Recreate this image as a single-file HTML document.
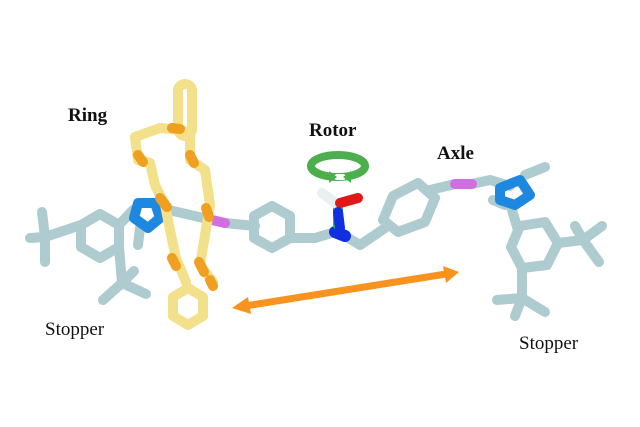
<!DOCTYPE html>
<html><head><meta charset="utf-8"><style>
html,body{margin:0;padding:0;background:#fff;width:640px;height:427px;overflow:hidden}
svg{display:block}
text{font-family:"Liberation Serif",serif;fill:#111}
</style></head><body>
<svg width="640" height="427" viewBox="0 0 640 427" xmlns="http://www.w3.org/2000/svg">
<g fill="none" stroke-linecap="round" stroke-linejoin="round">
<g stroke="#aecbcf" stroke-width="10">
<polygon points="100,214 119,225 119,247 100,258 81,247 81,225"/>
<line x1="81" y1="225" x2="45" y2="237"/>
<line x1="45" y1="237" x2="42" y2="212"/>
<line x1="45" y1="237" x2="30" y2="238"/>
<line x1="45" y1="237" x2="45" y2="262"/>
<line x1="119" y1="247" x2="122" y2="283"/>
<line x1="122" y1="283" x2="103" y2="300"/>
<line x1="122" y1="283" x2="146" y2="294"/>
<line x1="122" y1="283" x2="134" y2="271"/>
<line x1="119" y1="225" x2="133" y2="210"/>
<line x1="140" y1="228" x2="138" y2="245"/>
<line x1="160" y1="208" x2="212" y2="220"/>
<line x1="225" y1="223" x2="255" y2="226"/>
<polygon points="272,206 290,216 290,238 272,248 254,238 254,216"/>
<line x1="290" y1="238" x2="315" y2="238"/>
<line x1="315" y1="238" x2="335" y2="232"/>
<line x1="345" y1="236" x2="360" y2="245"/>
<line x1="360" y1="245" x2="385" y2="228"/>
<polygon points="393,196 418,183 435,198 425,222 398,232 383,220"/>
<line x1="430" y1="190" x2="455" y2="184"/>
<line x1="472" y1="184" x2="490" y2="180"/>
<line x1="490" y1="180" x2="510" y2="186"/>
<line x1="525" y1="175" x2="545" y2="167"/>
<line x1="493" y1="200" x2="505" y2="205"/>
<line x1="512" y1="210" x2="518" y2="230"/>
<polygon points="520,226 545,222 558,243 547,265 522,268 511,247"/>
<line x1="558" y1="243" x2="583" y2="240"/>
<line x1="583" y1="240" x2="602" y2="226"/>
<line x1="583" y1="240" x2="599" y2="262"/>
<line x1="583" y1="240" x2="575" y2="226"/>
<line x1="522" y1="268" x2="522" y2="298"/>
<line x1="522" y1="298" x2="497" y2="300"/>
<line x1="522" y1="298" x2="545" y2="312"/>
<line x1="522" y1="298" x2="515" y2="316"/>
</g>
<polygon points="138,203 155,203 160,218 148,228 134,218" stroke="#1e88e0" stroke-width="10"/>
<polygon points="500,188 520,180 530,195 515,205 500,200" stroke="#1e88e0" stroke-width="10"/>
<line x1="212" y1="220" x2="225" y2="223" stroke="#d070e0" stroke-width="10"/>
<line x1="455" y1="184" x2="472" y2="184" stroke="#d070e0" stroke-width="10"/>
<line x1="335" y1="232" x2="345" y2="236" stroke="#1030e0" stroke-width="12"/>
<line x1="338" y1="225" x2="338" y2="208" stroke="#20c050" stroke-width="10"/>
<line x1="338" y1="205" x2="322" y2="193" stroke="#e8f0f0" stroke-width="10"/>
<line x1="340" y1="203" x2="358" y2="198" stroke="#e01818" stroke-width="10"/>
<line x1="338" y1="212" x2="340" y2="228" stroke="#1030e0" stroke-width="10"/>
<g stroke="#f2e08a" stroke-width="10">
<rect x="178" y="84" width="14" height="52" rx="7"/>
<polyline points="182,130 160,128 135,137 138,160 150,163 155,185 165,205 170,230 176,258 186,282"/>
<polyline points="190,130 190,160 205,170 210,205 205,235 200,265 213,282"/>
<polygon points="188,288 203,297 203,316 188,325 173,316 173,297"/>
</g>
<g stroke="#f0a020" stroke-width="10">
<line x1="172" y1="128" x2="180" y2="129"/>
<line x1="138" y1="155" x2="143" y2="162"/>
<line x1="190" y1="155" x2="194" y2="163"/>
<line x1="160" y1="198" x2="167" y2="207"/>
<line x1="206" y1="208" x2="209" y2="217"/>
<line x1="172" y1="258" x2="176" y2="266"/>
<line x1="199" y1="262" x2="204" y2="272"/>
<line x1="210" y1="280" x2="213" y2="286"/>
</g>
<ellipse cx="338" cy="166" rx="27" ry="11" stroke="#4cae4c" stroke-width="8"/>
<line x1="337" y1="177" x2="343" y2="177" stroke="#fff" stroke-width="6"/>
</g>
<polygon points="329,171 337,177 329,183" fill="#4cae4c"/>
<polygon points="351,171 343,177 351,183" fill="#4cae4c"/>
<line x1="245" y1="306" x2="446" y2="274" stroke="#f7931e" stroke-width="7"/>
<polygon points="232,308 248,297 251,314" fill="#f7931e"/>
<polygon points="459,272 443,266 446,283" fill="#f7931e"/>
<text x="68" y="121" font-size="19" font-weight="bold">Ring</text>
<text x="309" y="136" font-size="19" font-weight="bold">Rotor</text>
<text x="437" y="159" font-size="19" font-weight="bold">Axle</text>
<text x="45" y="335" font-size="19">Stopper</text>
<text x="519" y="349" font-size="19">Stopper</text>
</svg>
</body></html>
